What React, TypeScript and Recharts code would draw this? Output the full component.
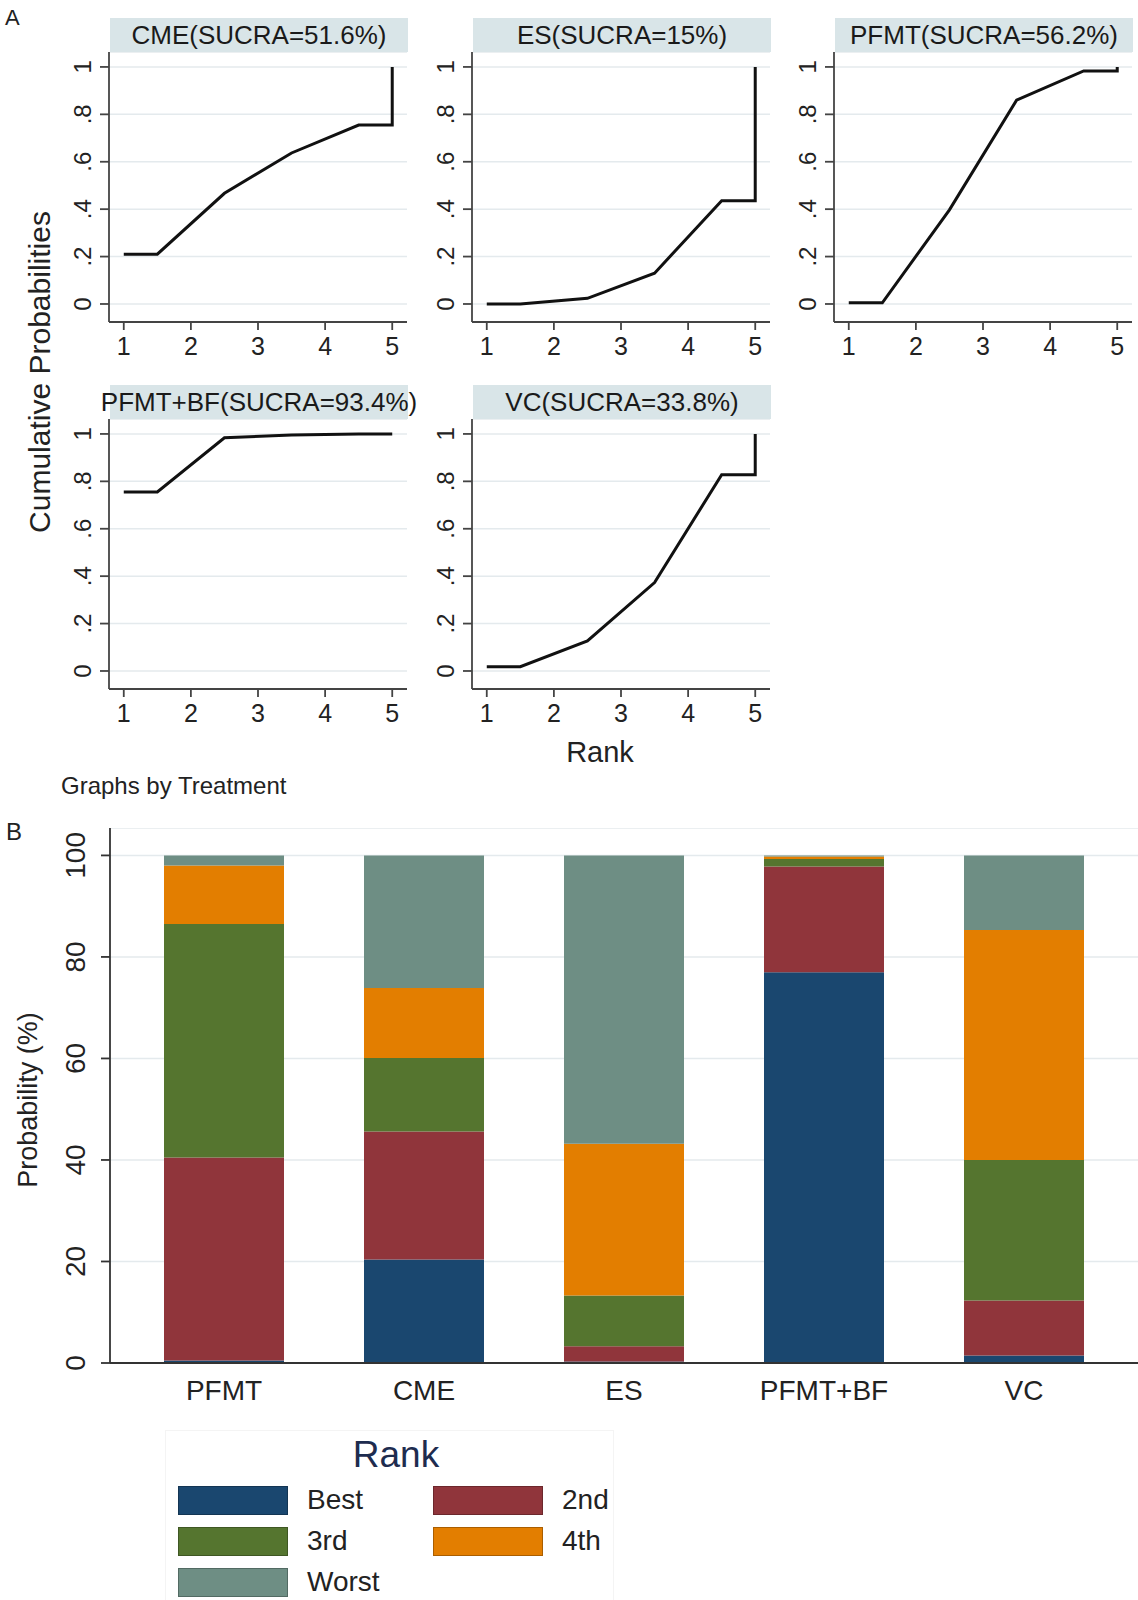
import React from "react";
import { LineChart, Line, XAxis, YAxis, CartesianGrid, BarChart, Bar } from "recharts";

const FONT = '"Liberation Sans", Arial, Helvetica, sans-serif';

// ---- panel A: cumulative rank probabilities ----
const treatments = ["CME", "ES", "PFMT", "PFMT+BF", "VC"];
const sucra = ["51.6", "15", "56.2", "93.4", "33.8"];
const rankPos = [1, 1.5, 2.5, 3.5, 4.5, 5, 5];
const cumCME = [0.21, 0.21, 0.467, 0.637, 0.755, 0.755, 1];
const cumES = [0, 0, 0.024, 0.13, 0.436, 0.436, 1];
const cumPFMT = [0.005, 0.005, 0.397, 0.86, 0.983, 0.983, 1];
const cumPFMTBF = [0.755, 0.755, 0.984, 0.996, 1, 1, 1];
const cumVC = [0.018, 0.018, 0.127, 0.373, 0.828, 0.828, 1];
const cumByTreatment = [cumCME, cumES, cumPFMT, cumPFMTBF, cumVC];
const probTicks = [0, 0.2, 0.4, 0.6, 0.8, 1];
const rankTicks = [1, 2, 3, 4, 5];

// ---- panel B: rank probabilities (%) ----
const barCats = ["PFMT", "CME", "ES", "PFMT+BF", "VC"];
const best = [0.5, 20.4, 0.3, 77.0, 1.5];
const second = [40.0, 25.2, 3.0, 20.8, 10.8];
const third = [46.0, 14.5, 10.0, 1.5, 27.7];
const fourth = [11.5, 13.8, 29.9, 0.5, 45.3];
const worst = [2.0, 26.1, 56.8, 0.2, 14.7];
const pctTicks = [0, 20, 40, 60, 80, 100];

const rankSeries = [
  { key: "best", label: "Best", color: "#1a476f" },
  { key: "second", label: "2nd", color: "#90353b" },
  { key: "third", label: "3rd", color: "#55752f" },
  { key: "fourth", label: "4th", color: "#e37e00" },
  { key: "worst", label: "Worst", color: "#6e8e84" },
];

const barData = barCats.map((name, i) => ({
  name,
  best: best[i],
  second: second[i],
  third: third[i],
  fourth: fourth[i],
  worst: worst[i],
}));

// layout of the small multiples (axis x, plot top)
const cells = [
  [109, 52],
  [472, 52],
  [834, 52],
  [109, 419],
  [472, 419],
];
const PW = 298; // plot width
const PH = 270; // plot height

const fmtProb = (v: number) => (v === 0 ? "0" : v === 1 ? "1" : "." + Math.round(v * 10));

function RotTick(props: any) {
  const { x, y, payload, fmt, size } = props;
  return (
    <text
      x={x}
      y={y}
      transform={`rotate(-90 ${x} ${y})`}
      textAnchor="middle"
      fontSize={size}
      fill="#222"
      fontFamily={FONT}
    >
      {fmt ? fmt(payload.value) : payload.value}
    </text>
  );
}

function BottomTick(props: any) {
  const { x, y, payload, size } = props;
  return (
    <text x={x} y={y} dy="0.71em" textAnchor="middle" fontSize={size} fill="#222" fontFamily={FONT}>
      {payload.value}
    </text>
  );
}

function RankPanel({ idx }: { idx: number }) {
  const [ax, top] = cells[idx];
  const data = rankPos.map((x, i) => ({ x, y: cumByTreatment[idx][i] }));
  return (
    <>
      <div
        style={{
          position: "absolute",
          left: ax + 1,
          top: top - 34,
          width: PW,
          height: 34,
          background: "#d9e5e8",
          fontSize: 26,
          lineHeight: "34px",
          whiteSpace: "nowrap",
          color: "#1a1a1a",
          display: "flex",
          justifyContent: "center",
        }}
      >
        <span>{`${treatments[idx]}(SUCRA=${sucra[idx]}%)`}</span>
      </div>
      <div style={{ position: "absolute", left: ax - 70, top }}>
        <LineChart width={70 + PW} height={PH + 50} data={data} margin={{ top: 0, right: 0, left: 0, bottom: 0 }}>
          <CartesianGrid horizontal vertical={false} stroke="#e4eaed" strokeWidth={1.5} />
          <XAxis
            type="number"
            dataKey="x"
            domain={[0.78, 5.22]}
            ticks={rankTicks}
            allowDataOverflow
            height={50}
            tickSize={8}
            tickMargin={7}
            axisLine={{ stroke: "#444", strokeWidth: 1.8 }}
            tickLine={{ stroke: "#444", strokeWidth: 1.8 }}
            tick={(p: any) => <BottomTick {...p} size={25} />}
          />
          <YAxis
            type="number"
            domain={[-0.076, 1.063]}
            ticks={probTicks}
            allowDataOverflow
            width={70}
            tickSize={9}
            tickMargin={9}
            axisLine={{ stroke: "#444", strokeWidth: 1.8 }}
            tickLine={{ stroke: "#444", strokeWidth: 1.8 }}
            tick={(p: any) => <RotTick {...p} fmt={fmtProb} size={24} />}
          />
          <Line
            type="linear"
            dataKey="y"
            stroke="#111"
            strokeWidth={3}
            dot={false}
            isAnimationActive={false}
          />
        </LineChart>
      </div>
    </>
  );
}

export default function App() {
  return (
    <div
      style={{
        position: "relative",
        width: 1138,
        height: 1600,
        background: "#fff",
        fontFamily: FONT,
        overflow: "hidden",
        color: "#222",
      }}
    >
      <style>{"body{margin:0;background:#fff}"}</style>

      <div style={{ position: "absolute", left: 5, top: 5, fontSize: 22 }}>A</div>

      {treatments.map((_, i) => (
        <RankPanel key={i} idx={i} />
      ))}

      <div
        style={{
          position: "absolute",
          left: 40,
          top: 372,
          fontSize: 30,
          whiteSpace: "nowrap",
          transform: "translate(-50%, -50%) rotate(-90deg)",
        }}
      >
        Cumulative Probabilities
      </div>
      <div
        style={{
          position: "absolute",
          left: 600,
          top: 752,
          fontSize: 29,
          transform: "translate(-50%, -50%)",
        }}
      >
        Rank
      </div>
      <div style={{ position: "absolute", left: 61, top: 772, fontSize: 24, whiteSpace: "nowrap" }}>
        Graphs by Treatment
      </div>

      <div style={{ position: "absolute", left: 6, top: 818, fontSize: 24 }}>B</div>

      <div style={{ position: "absolute", left: 30, top: 828 }}>
        <BarChart width={1108} height={595} data={barData} margin={{ top: 0, right: 0, left: 0, bottom: 0 }}>
          <CartesianGrid horizontal vertical={false} stroke="#e4eaed" strokeWidth={1.5} />
          <XAxis
            dataKey="name"
            height={60}
            padding={{ left: 14, right: 14 }}
            tickSize={0}
            tickMargin={17}
            tickLine={false}
            axisLine={{ stroke: "#333", strokeWidth: 1.8 }}
            tick={(p: any) => <BottomTick {...p} size={28} />}
          />
          <YAxis
            type="number"
            domain={[0, 105.4]}
            ticks={pctTicks}
            allowDataOverflow
            width={80}
            tickSize={9}
            tickMargin={16}
            axisLine={{ stroke: "#333", strokeWidth: 1.8 }}
            tickLine={{ stroke: "#333", strokeWidth: 1.8 }}
            tick={(p: any) => <RotTick {...p} size={28} />}
          />
          {rankSeries.map((s) => (
            <Bar
              key={s.key}
              dataKey={s.key}
              stackId="rank"
              fill={s.color}
              barSize={120}
              isAnimationActive={false}
            />
          ))}
        </BarChart>
      </div>

      <div
        style={{
          position: "absolute",
          left: 28,
          top: 1100,
          fontSize: 27,
          whiteSpace: "nowrap",
          transform: "translate(-50%, -50%) rotate(-90deg)",
        }}
      >
        Probability (%)
      </div>

      {/* legend */}
      <div
        style={{
          position: "absolute",
          left: 165,
          top: 1430,
          width: 447,
          height: 180,
          border: "1px solid #f4f4f4",
        }}
      />
      <div
        style={{
          position: "absolute",
          left: 396,
          top: 1455,
          fontSize: 37,
          color: "#1e2c4f",
          transform: "translate(-50%, -50%)",
        }}
      >
        Rank
      </div>
      {rankSeries.map((s, i) => {
        const col = i % 2;
        const row = Math.floor(i / 2);
        const sx = col === 0 ? 178 : 433;
        const cy = 1500 + row * 41;
        return (
          <React.Fragment key={s.key}>
            <div
              style={{
                position: "absolute",
                left: sx,
                top: cy - 14,
                width: 108,
                height: 27,
                background: s.color,
                border: "1px solid rgba(0,0,0,0.25)",
              }}
            />
            <div
              style={{
                position: "absolute",
                left: sx + 129,
                top: cy - 17,
                fontSize: 28,
                lineHeight: "34px",
                color: "#222",
              }}
            >
              {s.label}
            </div>
          </React.Fragment>
        );
      })}
    </div>
  );
}
